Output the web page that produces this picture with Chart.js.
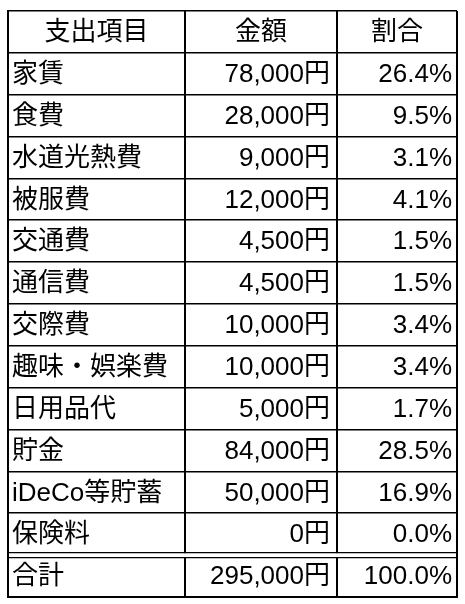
<!DOCTYPE html>
<html><head><meta charset="utf-8">
<script src="https://cdn.jsdelivr.net/npm/chart.js@4"></script>
<style>html,body{margin:0;background:#fff}#c{display:block}</style>
</head><body>
<div style="width:465px;height:604px"><canvas id="c"></canvas></div>
<script>
const headers = ["支出項目", "金額", "割合"];
const items = ["家賃", "食費", "水道光熱費", "被服費", "交通費", "通信費", "交際費", "趣味・娯楽費", "日用品代", "貯金", "iDeCo等貯蓄", "保険料", "合計"];
const amounts = ["78,000円", "28,000円", "9,000円", "12,000円", "4,500円", "4,500円", "10,000円", "10,000円", "5,000円", "84,000円", "50,000円", "0円", "295,000円"];
const ratios = ["26.4%", "9.5%", "3.1%", "4.1%", "1.5%", "1.5%", "3.4%", "3.4%", "1.7%", "28.5%", "16.9%", "0.0%", "100.0%"];
const colEdges = [0, 177, 329, 449];

const rows = ["header"].concat(items);
const FONT = '26px "Liberation Sans", "Noto Sans CJK JP", sans-serif';

const tablePlugin = {
  id: "tableText",
  afterDraw(chart) {
    const { ctx, scales: { x, y }, chartArea } = chart;
    const rowH = (chartArea.bottom - chartArea.top) / rows.length;
    ctx.save();
    // double line above total
    const by = y.getPixelForValue(rows.length - 1) - rowH / 2;
    ctx.fillStyle = "#fff";
    ctx.fillRect(chartArea.left + 1, by - 2, chartArea.right - chartArea.left - 2, 4);
    ctx.strokeStyle = "#000";
    ctx.lineWidth = 1.3;
    [by - 2.5, by + 2.5].forEach(yy => {
      ctx.beginPath(); ctx.moveTo(chartArea.left, yy); ctx.lineTo(chartArea.right, yy); ctx.stroke();
    });
    ctx.fillStyle = "#000";
    ctx.font = FONT;
    ctx.textBaseline = "middle";
    const cx = i => (x.getPixelForValue(colEdges[i]) + x.getPixelForValue(colEdges[i + 1])) / 2;
    let yy = y.getPixelForValue(0) + 1;
    ctx.textAlign = "center";
    headers.forEach((h, i) => ctx.fillText(h, cx(i), yy));
    items.forEach((it, r) => {
      const py = y.getPixelForValue(r + 1) + 1;
      ctx.textAlign = "left";
      ctx.fillText(it, x.getPixelForValue(colEdges[0]) + 4, py);
      ctx.textAlign = "right";
      ctx.fillText(amounts[r], x.getPixelForValue(colEdges[2]) - 7, py);
      ctx.fillText(ratios[r], x.getPixelForValue(colEdges[3]) - 5, py);
    });
    ctx.restore();
  }
};

new Chart(document.getElementById("c"), {
  type: "scatter",
  data: { labels: rows, datasets: [{ data: rows.map(r => ({ x: 0, y: r })), pointRadius: 0 }] },
  options: {
    responsive: true,
    maintainAspectRatio: false,
    animation: false,
    events: [],
    layout: { padding: { left: 8, top: 11, right: 8, bottom: 7 } },
    plugins: { legend: { display: false }, tooltip: { enabled: false } },
    scales: {
      x: {
        type: "linear", min: colEdges[0], max: colEdges[3],
        afterBuildTicks: s => { s.ticks = colEdges.map(v => ({ value: v })); },
        ticks: { display: false },
        grid: { color: "#000", lineWidth: 2, drawTicks: false },
        border: { display: true, color: "#000", width: 2 }
      },
      y: {
        type: "category", labels: rows, offset: true,
        ticks: { display: false },
        grid: { offset: true, color: "#000", lineWidth: 1.6, drawTicks: false },
        border: { display: true, color: "#000", width: 2 }
      }
    }
  },
  plugins: [tablePlugin]
});
</script>
</body></html>
